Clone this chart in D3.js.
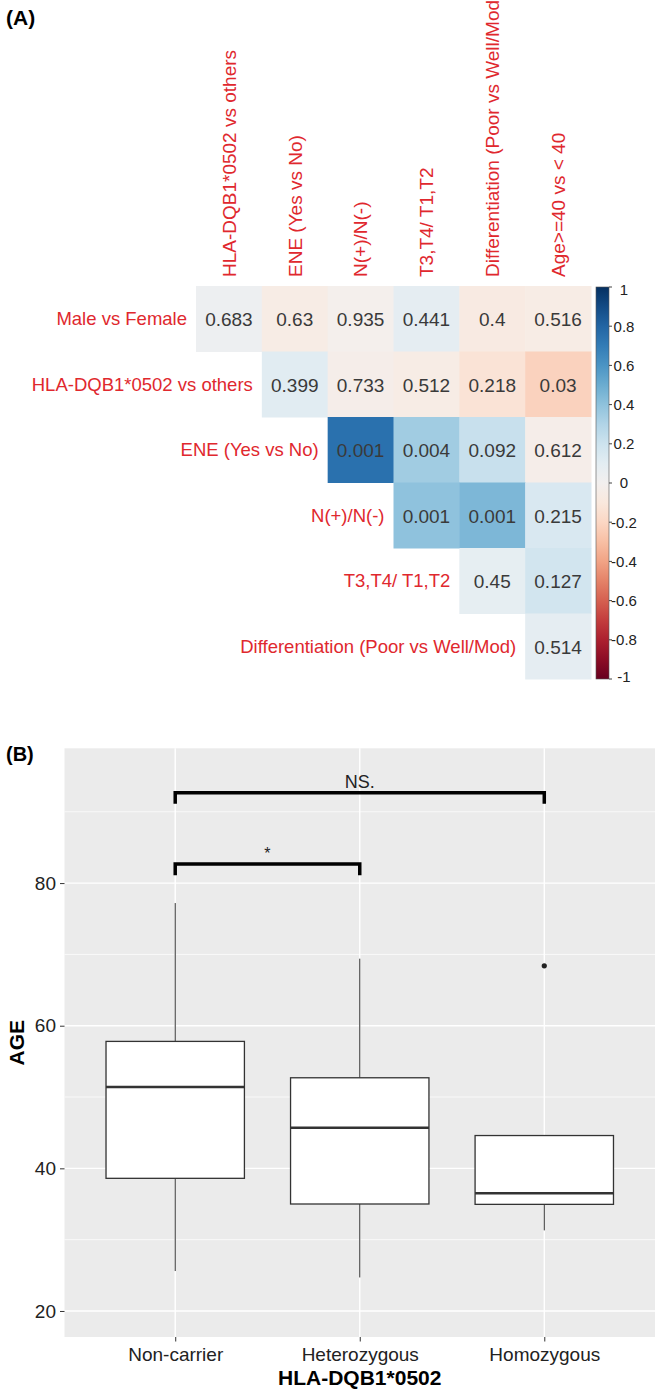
<!DOCTYPE html>
<html>
<head>
<meta charset="utf-8">
<script src="https://cdn.jsdelivr.net/npm/d3@7"></script>
<style>
body { margin: 0; background: #fff; }
text { font-family: "Liberation Sans", Arial, sans-serif; }
</style>
</head>
<body>
<script>
// ---- panel A data ----
const rowLabels = ["Male vs Female", "HLA-DQB1*0502 vs others", "ENE (Yes vs No)", "N(+)/N(-)", "T3,T4/ T1,T2", "Differentiation (Poor vs Well/Mod)"];
const colLabels = ["HLA-DQB1*0502 vs others", "ENE (Yes vs No)", "N(+)/N(-)", "T3,T4/ T1,T2", "Differentiation (Poor vs Well/Mod)", "Age>=40 vs < 40"];
const corrValues = [
    [0.04, -0.06, -0.02, 0.09, -0.08, -0.06],
    [null, 0.11, -0.04, -0.06, -0.13, -0.22],
    [null, null, 0.75, 0.35, 0.22, -0.04],
    [null, null, null, 0.40, 0.45, 0.15],
    [null, null, null, null, 0.08, 0.18],
    [null, null, null, null, null, 0.09]
];
const pLabels = [
    ["0.683", "0.63", "0.935", "0.441", "0.4", "0.516"],
    [null, "0.399", "0.733", "0.512", "0.218", "0.03"],
    [null, null, "0.001", "0.004", "0.092", "0.612"],
    [null, null, null, "0.001", "0.001", "0.215"],
    [null, null, null, null, "0.45", "0.127"],
    [null, null, null, null, null, "0.514"]
];
const colorbarTicks = [-1, -0.8, -0.6, -0.4, -0.2, 0, 0.2, 0.4, 0.6, 0.8, 1];

// ---- panel B data ----
const groups = ["Non-carrier", "Heterozygous", "Homozygous"];
const lowerWhisker = [25.6, 24.7, 31.3];
const q1 = [38.6, 35.0, 34.95];
const median = [51.4, 45.7, 36.5];
const q3 = [57.8, 52.7, 44.6];
const upperWhisker = [77.2, 69.4, 44.6];
const outlierGroups = ["Homozygous"];
const outlierAges = [68.4];
const ageTicks = [20, 40, 60, 80];
const ageMinorTicks = [30, 50, 70, 90];
const bracketFrom = ["Non-carrier", "Non-carrier"];
const bracketTo = ["Heterozygous", "Homozygous"];
const bracketAge = [82.66, 92.66];
const bracketText = ["*", "NS."];

const w = 661, h = 1391;
const red = "#e0282e";

const svg = d3.select("body").append("svg")
    .attr("width", w)
    .attr("height", h)
    .style("background", "#fff");

// ================= (A) correlation heatmap =================
svg.append("text")
    .attr("x", 6).attr("y", 25)
    .style("font-size", "21px").style("font-weight", "bold")
    .text("(A)");

const idx = d3.range(rowLabels.length);
const xCell = d3.scaleBand().domain(idx).range([196, 591]);
const yCell = d3.scaleBand().domain(idx).range([286, 679]);
const color = d3.scaleSequential(d3.interpolateRdBu).domain([-1, 1]);

const cells = [];
corrValues.forEach((row, r) => row.forEach((v, c) => {
    if (v !== null) cells.push({r: r, c: c, v: v, p: pLabels[r][c]});
}));

svg.append("g").selectAll("rect")
    .data(cells)
    .enter()
    .append("rect")
    .attr("x", d => xCell(d.c))
    .attr("y", d => yCell(d.r))
    .attr("width", xCell.bandwidth() + 0.5)
    .attr("height", yCell.bandwidth() + 0.5)
    .attr("fill", d => color(d.v));

svg.append("g").selectAll("text")
    .data(cells)
    .enter()
    .append("text")
    .attr("x", d => xCell(d.c) + xCell.bandwidth() / 2)
    .attr("y", d => yCell(d.r) + yCell.bandwidth() / 2)
    .attr("dy", "0.4em")
    .attr("text-anchor", "middle")
    .style("font-size", "19px")
    .style("fill", "#3a3a3a")
    .text(d => d.p);

// row labels, right aligned against the first cell of each row
svg.append("g").selectAll("text")
    .data(rowLabels)
    .enter()
    .append("text")
    .attr("x", (d, i) => xCell(i) - 9)
    .attr("y", (d, i) => yCell(i) + yCell.bandwidth() / 2)
    .attr("dy", "0.36em")
    .attr("text-anchor", "end")
    .style("font-size", "18.5px")
    .style("fill", red)
    .text(d => d);

// column labels, vertical
svg.append("g").selectAll("text")
    .data(colLabels)
    .enter()
    .append("text")
    .attr("transform", (d, i) => `translate(${xCell(i) + xCell.bandwidth() / 2}, 277) rotate(-90)`)
    .attr("dy", "0.36em")
    .style("font-size", "19px")
    .style("fill", red)
    .text(d => d);

// colour bar
const cbY = d3.scaleLinear().domain([-1, 1]).range([679, 287]);
const grad = svg.append("defs").append("linearGradient")
    .attr("id", "cbar")
    .attr("x1", 0).attr("y1", 1).attr("x2", 0).attr("y2", 0);
d3.range(0, 1.001, 0.05).forEach(t => {
    grad.append("stop").attr("offset", t).attr("stop-color", d3.interpolateRdBu(t));
});
svg.append("rect")
    .attr("x", 596).attr("y", cbY(1))
    .attr("width", 13).attr("height", cbY(-1) - cbY(1))
    .attr("fill", "url(#cbar)")
    .attr("stroke", "#555").attr("stroke-width", 0.6);

svg.append("g").selectAll("line")
    .data(colorbarTicks)
    .enter()
    .append("line")
    .attr("x1", 609).attr("x2", 612)
    .attr("y1", d => cbY(d)).attr("y2", d => cbY(d))
    .attr("stroke", "#444");

svg.append("g").selectAll("text")
    .data(colorbarTicks)
    .enter()
    .append("text")
    .attr("x", 624)
    .attr("y", d => cbY(d))
    .attr("dy", d => d === 1 ? "0.55em" : (d === -1 ? "0.2em" : "0.36em"))
    .attr("text-anchor", "middle")
    .style("font-size", "15px")
    .style("fill", "#222")
    .text(d => String(d));

// ================= (B) box plot =================
svg.append("text")
    .attr("x", 6).attr("y", 761)
    .style("font-size", "20px").style("font-weight", "bold")
    .text("(B)");

const pLeft = 64.5, pRight = 655, pTop = 748.3, pBottom = 1337;
const x = d3.scalePoint().domain(groups).range([pLeft, pRight]).padding(0.6);
const y = d3.scaleLinear().domain([16.35, 98.9]).range([pBottom, pTop]);
const boxW = x.step() * 0.75;

svg.append("rect")
    .attr("x", pLeft).attr("y", pTop)
    .attr("width", pRight - pLeft).attr("height", pBottom - pTop)
    .attr("fill", "#ebebeb");

svg.append("g").selectAll("line")
    .data(ageMinorTicks)
    .enter()
    .append("line")
    .attr("x1", pLeft).attr("x2", pRight)
    .attr("y1", d => y(d)).attr("y2", d => y(d))
    .attr("stroke", "#fff").attr("stroke-width", 0.7);

svg.append("g").selectAll("line")
    .data(ageTicks)
    .enter()
    .append("line")
    .attr("x1", pLeft).attr("x2", pRight)
    .attr("y1", d => y(d)).attr("y2", d => y(d))
    .attr("stroke", "#fff").attr("stroke-width", 1.4);

svg.append("g").selectAll("line")
    .data(groups)
    .enter()
    .append("line")
    .attr("x1", d => x(d)).attr("x2", d => x(d))
    .attr("y1", pTop).attr("y2", pBottom)
    .attr("stroke", "#fff").attr("stroke-width", 1.4);

const boxes = svg.append("g").selectAll("g")
    .data(groups)
    .enter()
    .append("g");

// whiskers
boxes.append("line")
    .attr("x1", d => x(d)).attr("x2", d => x(d))
    .attr("y1", (d, i) => y(upperWhisker[i])).attr("y2", (d, i) => y(q3[i]))
    .attr("stroke", "#333").attr("stroke-width", 1);
boxes.append("line")
    .attr("x1", d => x(d)).attr("x2", d => x(d))
    .attr("y1", (d, i) => y(q1[i])).attr("y2", (d, i) => y(lowerWhisker[i]))
    .attr("stroke", "#333").attr("stroke-width", 1);

boxes.append("rect")
    .attr("x", d => x(d) - boxW / 2)
    .attr("y", (d, i) => y(q3[i]))
    .attr("width", boxW)
    .attr("height", (d, i) => y(q1[i]) - y(q3[i]))
    .attr("fill", "#fff")
    .attr("stroke", "#333").attr("stroke-width", 1.3);

boxes.append("line")
    .attr("x1", d => x(d) - boxW / 2).attr("x2", d => x(d) + boxW / 2)
    .attr("y1", (d, i) => y(median[i])).attr("y2", (d, i) => y(median[i]))
    .attr("stroke", "#333").attr("stroke-width", 2.6);

svg.append("g").selectAll("circle")
    .data(outlierAges)
    .enter()
    .append("circle")
    .attr("cx", (d, i) => x(outlierGroups[i]))
    .attr("cy", d => y(d))
    .attr("r", 2.6)
    .attr("fill", "#222");

// significance brackets
const tip = 1.55;
const brackets = svg.append("g").selectAll("g")
    .data(bracketAge)
    .enter()
    .append("g");
brackets.append("path")
    .attr("d", (d, i) => `M${x(bracketFrom[i])},${y(d - tip)}V${y(d)}H${x(bracketTo[i])}V${y(d - tip)}`)
    .attr("fill", "none")
    .attr("stroke", "#000")
    .attr("stroke-width", 3.5);
brackets.append("text")
    .attr("x", (d, i) => (x(bracketFrom[i]) + x(bracketTo[i])) / 2)
    .attr("y", d => y(d) - 5)
    .attr("text-anchor", "middle")
    .style("font-size", (d, i) => i === 0 ? "16px" : "18px")
    .style("fill", "#222")
    .text((d, i) => bracketText[i]);

// axes
const yAxis = d3.axisLeft(y).tickValues(ageTicks).tickSize(4.5).tickPadding(4);
const gy = svg.append("g")
    .attr("transform", `translate(${pLeft}, 0)`)
    .call(yAxis);
gy.select(".domain").remove();
gy.selectAll("line").attr("stroke", "#333");
gy.selectAll("text").style("font-size", "19px").style("fill", "#222")
    .attr("font-family", null);

const xAxis = d3.axisBottom(x).tickSize(4.5).tickPadding(6);
const gx = svg.append("g")
    .attr("transform", `translate(0, ${pBottom})`)
    .call(xAxis);
gx.select(".domain").remove();
gx.selectAll("line").attr("stroke", "#333");
gx.selectAll("text").style("font-size", "19px").style("fill", "#222")
    .attr("font-family", null);

svg.append("text")
    .attr("x", (pLeft + pRight) / 2)
    .attr("y", 1385)
    .attr("text-anchor", "middle")
    .style("font-size", "21px").style("font-weight", "bold")
    .text("HLA-DQB1*0502");

svg.append("text")
    .attr("transform", `translate(24, ${(pTop + pBottom) / 2}) rotate(-90)`)
    .attr("text-anchor", "middle")
    .style("font-size", "21px").style("font-weight", "bold")
    .text("AGE");
</script>
</body>
</html>
